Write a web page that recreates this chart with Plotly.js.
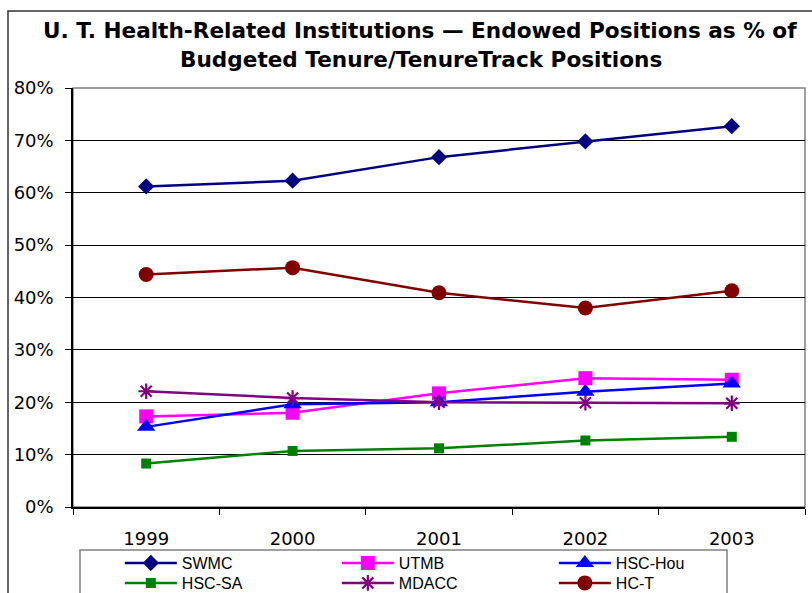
<!DOCTYPE html>
<html>
<head>
<meta charset="utf-8">
<script src="https://cdn.plot.ly/plotly-3.0.1.min.js"></script>
<style>html,body{margin:0;padding:0;background:#fff}#chart{width:812px;height:593px}</style>
</head>
<body>
<div id="chart"></div>
<script>
const years = ['1999', '2000', '2001', '2002', '2003'];
const swmc   = [61.2, 62.3, 66.8, 69.8, 72.7];
const utmb   = [17.3, 18.0, 21.7, 24.6, 24.3];
const hscHou = [15.3, 19.6, 20.0, 22.0, 23.6];
const hscSa  = [8.3, 10.7, 11.2, 12.7, 13.4];
const mdacc  = [22.1, 20.8, 20.0, 19.9, 19.8];
const hcT    = [44.4, 45.7, 40.9, 38.0, 41.3];
const yTicks = [0, 10, 20, 30, 40, 50, 60, 70, 80];
const yTickLabels = ['0%', '10%', '20%', '30%', '40%', '50%', '60%', '70%', '80%'];
const titleLines = ['U. T. Health-Related Institutions \u2014 Endowed Positions as % of',
                    'Budgeted Tenure/TenureTrack Positions'];

function tr(name, y, color, symbol, size, legend) {
  const ast = symbol === 'asterisk-open';
  return {
    type: 'scatter', mode: 'lines+markers', x: years, y: y, name: name,
    legend: legend,
    line: {color: color, width: 2.5},
    marker: {symbol: symbol, size: size, color: color, line: {color: color, width: ast ? 2.2 : 0}},
    hoverinfo: 'x+y+name'
  };
}

const data = [
  tr('SWMC', swmc, '#000080', 'diamond', 12.5, 'legend'),
  tr('UTMB', utmb, '#FF00FF', 'square', 14, 'legend'),
  tr('HSC-Hou', hscHou, '#0000FF', 'triangle-up', 16, 'legend'),
  tr('HSC-SA', hscSa, '#008000', 'square', 10, 'legend2'),
  tr('MDACC', mdacc, '#800080', 'asterisk-open', 13, 'legend2'),
  tr('HC-T', hcT, '#800000', 'circle', 15, 'legend2')
];

const tickFont = {family: '"DejaVu Sans", Tahoma, sans-serif', size: 18, color: '#000'};
const legFont = {family: '"Liberation Sans", Arial, sans-serif', size: 16, color: '#000'};
const titleFont = {family: '"DejaVu Sans", Tahoma, sans-serif', size: 21.6, color: '#000', weight: 'bold'};

function leg(y) {
  return {
    orientation: 'h', x: 0.064, xanchor: 'left', y: y, yanchor: 'middle',
    entrywidth: 150, entrywidthmode: 'pixels', itemwidth: 52,
    font: legFont, bgcolor: 'rgba(0,0,0,0)', borderwidth: 0,
    itemclick: false, itemdoubleclick: false
  };
}

const layout = {
  width: 812, height: 593,
  margin: {l: 73, r: 7, t: 88, b: 86, autoexpand: false},
  paper_bgcolor: '#fff', plot_bgcolor: '#fff',
  showlegend: true,
  annotations: [
    {text: titleLines[0], xref: 'paper', yref: 'paper', x: (420 - 73) / 732, y: (507 - 30) / 419,
     xanchor: 'center', yanchor: 'middle', showarrow: false, font: titleFont},
    {text: titleLines[1], xref: 'paper', yref: 'paper', x: (421 - 73) / 732, y: (507 - 60) / 419,
     xanchor: 'center', yanchor: 'middle', showarrow: false, font: titleFont}
  ],
  xaxis: {
    type: 'category', range: [-0.5, 4.5],
    showline: true, linecolor: '#000', linewidth: 1.5,
    ticks: 'outside', tickson: 'boundaries', ticklen: 6, tickcolor: '#000',
    showgrid: false, zeroline: false,
    tickfont: tickFont, ticklabelstandoff: 15, fixedrange: true
  },
  yaxis: {
    range: [0, 80], tickvals: yTicks, ticktext: yTickLabels,
    showline: true, linecolor: '#000', linewidth: 1.5,
    ticks: 'outside', ticklen: 6, tickcolor: '#000',
    showgrid: true, gridcolor: '#000', gridwidth: 1, zeroline: false,
    tickfont: tickFont, ticklabelstandoff: 8, fixedrange: true
  },
  legend: leg((507 - 563) / 419),
  legend2: leg((507 - 583) / 419),
  shapes: [
    {type: 'rect', xref: 'paper', yref: 'paper', x0: 0, x1: 1, y0: 0, y1: 1,
     line: {color: '#808080', width: 1.5}, layer: 'below'},
    {type: 'rect', xref: 'paper', yref: 'paper', x0: 7 / 732, x1: 654 / 732, y0: -43 / 419, y1: -100 / 419,
     line: {color: '#808080', width: 1.5}, layer: 'below'},
    {type: 'rect', xref: 'paper', yref: 'paper', x0: -65 / 732, x1: 760 / 732, y0: -100 / 419, y1: 496 / 419,
     line: {color: '#333', width: 1.5}, layer: 'below'}
  ]
};

Plotly.newPlot('chart', data, layout, {displayModeBar: false});
</script>
</body>
</html>
